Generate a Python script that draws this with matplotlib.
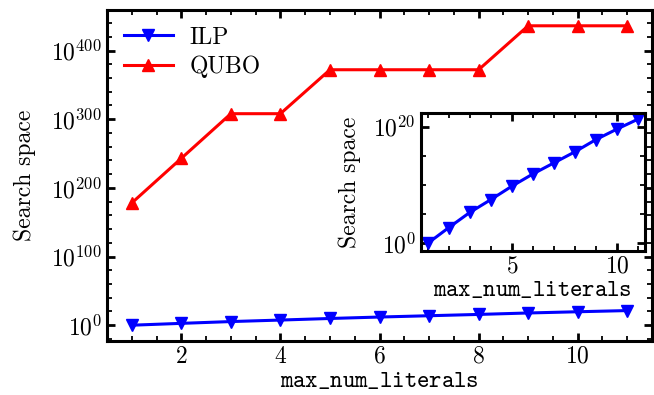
import numpy as np
import matplotlib
matplotlib.use('Agg')
import matplotlib.pyplot as plt
from matplotlib.ticker import AutoMinorLocator, FuncFormatter, MultipleLocator

# log10 of the search space size for each formulation
max_num_literals = [1, 2, 3, 4, 5, 6, 7, 8, 9, 10, 11]
ilp_log10 = [0.0, 2.7, 5.3, 7.5, 9.8, 11.9, 13.8, 15.7, 17.8, 19.6, 21.3]
qubo_log10 = [178, 243, 308, 308, 372, 372, 372, 372, 436, 436, 436]

plt.rcParams['font.family'] = 'serif'
plt.rcParams['font.serif'] = ['cmr10', 'DejaVu Serif']
plt.rcParams['mathtext.fontset'] = 'cm'
plt.rcParams['axes.formatter.use_mathtext'] = True
plt.rcParams['font.size'] = 17
plt.rcParams['axes.linewidth'] = 2.2
plt.rcParams['xtick.direction'] = 'in'
plt.rcParams['ytick.direction'] = 'in'
plt.rcParams['xtick.top'] = True
plt.rcParams['ytick.right'] = True
plt.rcParams['xtick.major.size'] = 6
plt.rcParams['ytick.major.size'] = 6
plt.rcParams['xtick.minor.size'] = 3.5
plt.rcParams['ytick.minor.size'] = 3.5
plt.rcParams['xtick.major.width'] = 2.0
plt.rcParams['ytick.major.width'] = 2.0
plt.rcParams['xtick.minor.width'] = 1.3
plt.rcParams['ytick.minor.width'] = 1.3
plt.rcParams['xtick.minor.visible'] = True
plt.rcParams['ytick.minor.visible'] = True

xlabel = r'$\mathtt{max\_num\_literals}$'


def pow10(v, pos):
    return r'$10^{%d}$' % int(round(v))


fig = plt.figure(figsize=(6.54, 3.95), dpi=100)
ax = fig.add_axes([0.1636, 0.1367, 0.8334, 0.838])

ax.plot(max_num_literals, ilp_log10, 'v-', color='blue', lw=2.2,
        ms=9, label='ILP')
ax.plot(max_num_literals, qubo_log10, '^-', color='red', lw=2.2,
        ms=9, label='QUBO')
ax.set_xlim(0.5, 11.5)
ax.set_ylim(-23, 459)
ax.xaxis.set_major_locator(MultipleLocator(2))
ax.yaxis.set_major_locator(MultipleLocator(100))
ax.xaxis.set_minor_locator(AutoMinorLocator(4))
ax.yaxis.set_minor_locator(AutoMinorLocator(5))
ax.yaxis.set_major_formatter(FuncFormatter(pow10))
ax.set_xlabel(xlabel, labelpad=1)
ax.set_ylabel('Search space', labelpad=11)
ax.legend(loc='upper left', frameon=False, handlelength=2.1,
          borderaxespad=0.3, labelspacing=0.3, handletextpad=0.7)

# inset: ILP alone on its own scale
axin = fig.add_axes([0.6433, 0.3646, 0.343, 0.3486])
axin.plot(max_num_literals, ilp_log10, 'v-', color='blue', lw=2.2, ms=9)
axin.set_xlim(0.67, 11.33)
axin.set_ylim(-1.3, 22.3)
axin.xaxis.set_major_locator(MultipleLocator(5))
axin.yaxis.set_major_locator(MultipleLocator(20))
axin.xaxis.set_minor_locator(AutoMinorLocator(5))
axin.yaxis.set_minor_locator(AutoMinorLocator(4))
axin.yaxis.set_major_formatter(FuncFormatter(pow10))
axin.set_xlabel(xlabel, labelpad=1)
axin.set_ylabel('Search space', labelpad=9)

fig.savefig('out.png', dpi=100)
